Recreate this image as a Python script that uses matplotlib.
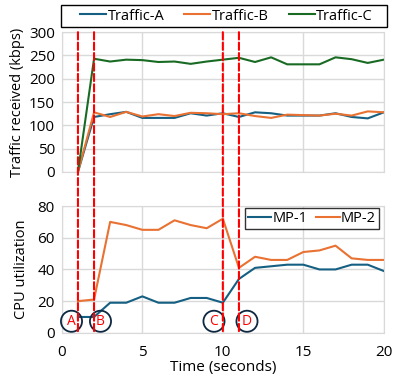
import numpy as np
import matplotlib
matplotlib.use("Agg")
import matplotlib.pyplot as plt
from matplotlib.patches import ConnectionPatch, Rectangle

plt.rcParams['font.family'] = ['Open Sans', 'DejaVu Sans']
plt.rcParams['font.size'] = 10

# ---- data ----
time = list(range(1, 21))
traffic_a = [0, 118, 124, 129, 116, 116, 116, 126, 121, 126,
             118, 128, 126, 121, 121, 121, 126, 118, 115, 128]
traffic_b = [0, 128, 118, 129, 119, 124, 120, 127, 126, 124,
             126, 120, 116, 123, 122, 121, 125, 121, 130, 128]
traffic_c = [0, 243, 237, 241, 240, 236, 237, 232, 237, 241,
             245, 236, 246, 231, 231, 231, 246, 242, 234, 241]
mp1 = [10, 10, 19, 19, 23, 19, 19, 22, 22, 19,
       34, 41, 42, 43, 43, 40, 40, 43, 43, 39]
mp2 = [20, 21, 70, 68, 65, 65, 71, 68, 66, 72,
       41, 48, 46, 46, 51, 52, 55, 47, 46, 46]
events = [1, 2, 10, 11]
event_labels = ['A', 'B', 'C', 'D']
label_x = [0.6, 2.4, 9.45, 11.5]

BLUE = '#156082'
ORANGE = '#E97132'
GREEN = '#196B24'
GRID = '#D9D9D9'

fig = plt.figure(figsize=(3.99, 3.83), dpi=100)
ax1 = fig.add_axes([0.155, 0.551, 0.807, 0.365])
ax2 = fig.add_axes([0.155, 0.131, 0.807, 0.331])

for ax in (ax1, ax2):
    ax.set_xlim(0, 20)
    ax.set_xticks([0, 5, 10, 15, 20])
    ax.grid(True, color=GRID, lw=1)
    ax.set_axisbelow(True)
    ax.tick_params(length=0, labelsize=11)
    ax.tick_params(axis='y', pad=5)
    for s in ax.spines.values():
        s.set_color(GRID)

# верхний график
ax1.plot(time, traffic_a, color=BLUE, lw=1.5, label='Traffic-A')
ax1.plot(time, traffic_b, color=ORANGE, lw=1.5, label='Traffic-B')
ax1.plot(time, traffic_c, color=GREEN, lw=1.5, label='Traffic-C')
ax1.set_ylim(0, 300)
ax1.set_yticks(range(0, 301, 50))
ax1.set_xticklabels([])
ax1.set_ylabel('Traffic received (kbps)', fontsize=10.5, labelpad=3)

# рамка общей легенды + сама легенда внутри
fig.add_artist(Rectangle((0.153, 0.9295), 0.817, 0.0574, transform=fig.transFigure,
                         fill=False, ec='black', lw=1))
fig.legend(loc='center left', bbox_to_anchor=(0.2, 0.9295, 0.735, 0.0574),
           mode='expand', ncol=3, frameon=False, borderaxespad=0,
           fontsize=10.5, handlelength=1.8, handletextpad=0.1, borderpad=0)

# нижний график
ax2.plot(time, mp1, color=BLUE, lw=1.5, label='MP-1')
ax2.plot(time, mp2, color=ORANGE, lw=1.5, label='MP-2')
ax2.set_ylim(0, 80)
ax2.set_yticks(range(0, 81, 20))
ax2.tick_params(axis='x', pad=9)
ax2.set_ylabel('CPU utilization', fontsize=10.5, labelpad=6)
ax2.set_xlabel('Time (seconds)', fontsize=11, labelpad=0)
ax2.legend(loc='upper right', ncol=2, frameon=True, fancybox=False,
           edgecolor='black', fontsize=10.5, borderpad=0.2,
           handlelength=1.6, handletextpad=0.1, columnspacing=0.6,
           bbox_to_anchor=(0.985, 0.985), borderaxespad=0)

# красные пунктирные линии через оба графика
for x in events:
    con = ConnectionPatch(xyA=(x, 300), coordsA=ax1.transData,
                          xyB=(x, 0), coordsB=ax2.transData,
                          color='red', lw=1.5, linestyle=(0, (3.5, 1.5)))
    fig.add_artist(con)

# метки событий
for lx, lab in zip(label_x, event_labels):
    ax2.text(lx, 7.3, lab, color='red', ha='center', va='center', fontsize=10,
             bbox=dict(boxstyle='circle,pad=0.22', fc='none', ec='#0E2841', lw=1.3))

plt.savefig('out.png', dpi=100)
